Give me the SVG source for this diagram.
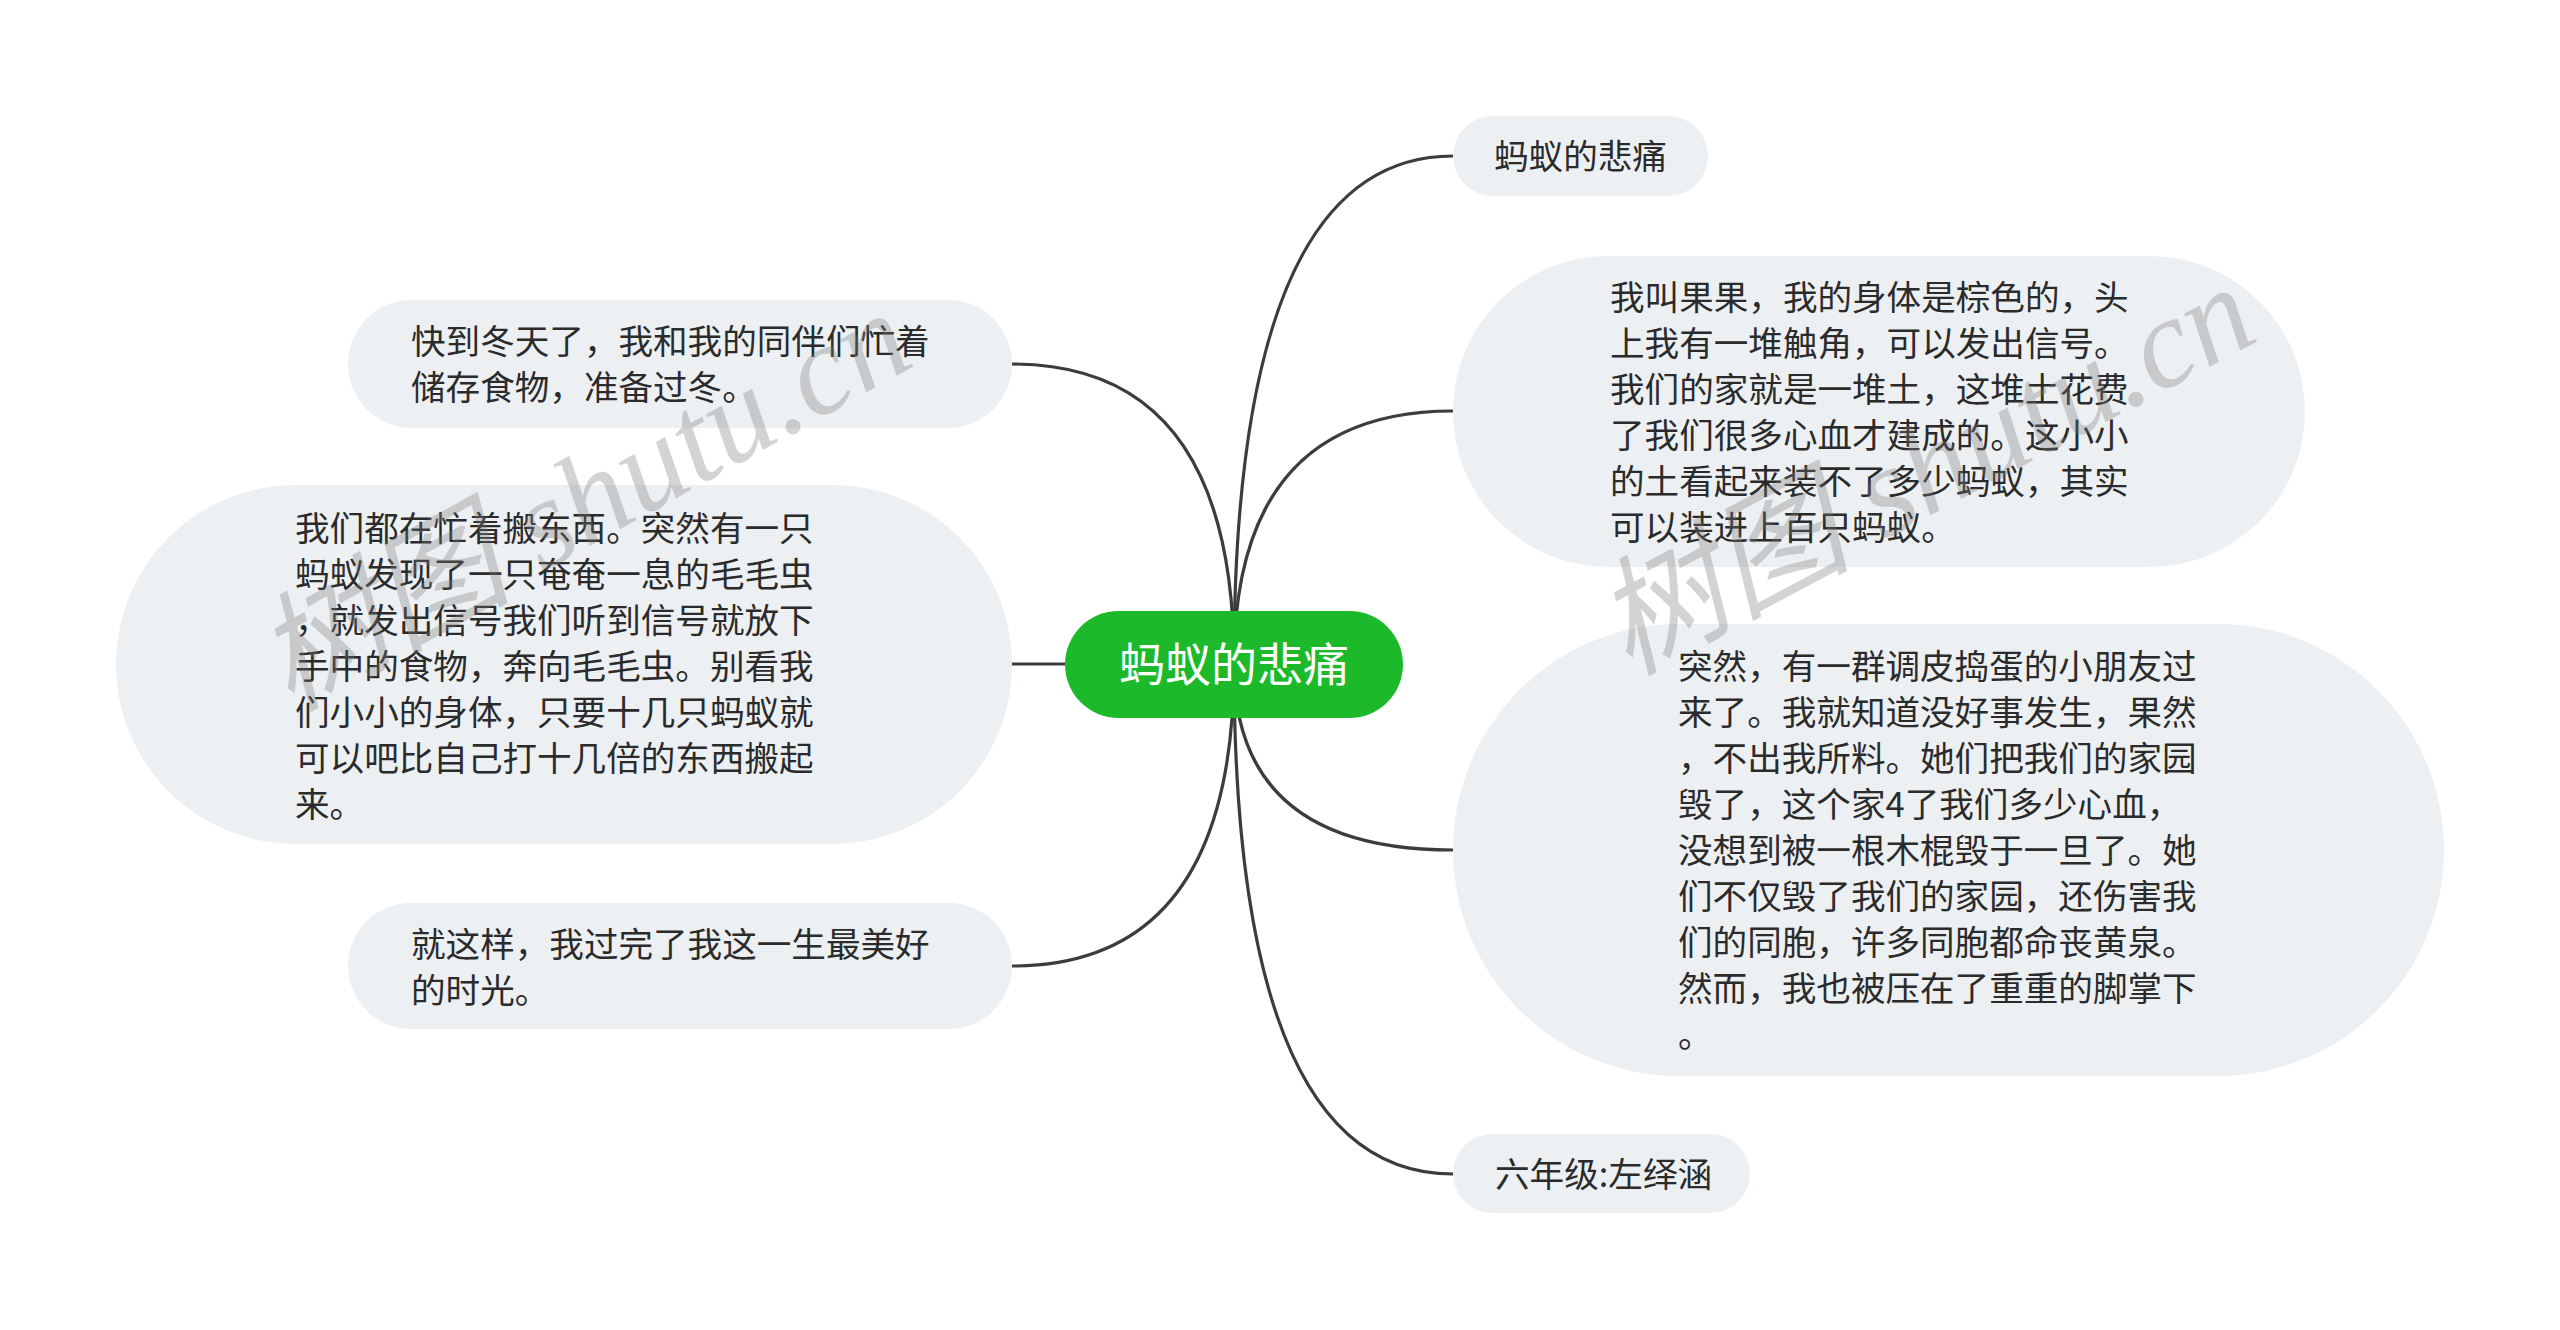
<svg xmlns="http://www.w3.org/2000/svg" width="2560" height="1330" viewBox="0 0 2560 1330">
<style>
.bg{fill:#ffffff}
.node{fill:#edf0f3}
.root{fill:#1cba2a}
.t{font-family:"Noto Sans CJK SC","Noto Sans",sans-serif;font-size:34.6px;fill:#2b2b2b}
.rt{font-family:"Noto Sans CJK SC","Noto Sans",sans-serif;font-size:46px;fill:#ffffff}
.edge{fill:none;stroke:#3c3c3c;stroke-width:3.2}
.wm{font-family:"Liberation Serif","Noto Sans CJK SC",serif;font-size:128px;font-style:italic;fill:#7a7a7a;fill-opacity:0.33}
</style>
<rect class="bg" x="0" y="0" width="2560" height="1330"/>
<g id="connectors">
<path class="edge" d="M1234,664 Q1234,156 1453,156"/>
<path class="edge" d="M1234,664 Q1234,411 1453,411"/>
<path class="edge" d="M1234,664 Q1234,850 1453,850"/>
<path class="edge" d="M1234,664 Q1234,1174 1453,1174"/>
<path class="edge" d="M1234,664 Q1234,364 1012,364"/>
<path class="edge" d="M1234,664 L1012,664"/>
<path class="edge" d="M1234,664 Q1234,966 1012,966"/>
</g>
<g id="node-l1">
<rect class="node" x="348" y="300" width="664" height="128" rx="64"/>
<text class="t" x="411" y="354">快到冬天了，我和我的同伴们忙着</text>
<text class="t" x="411" y="400">储存食物，准备过冬。</text>
</g>
<g id="node-l2">
<rect class="node" x="116" y="485" width="896" height="359" rx="179.5"/>
<text class="t" x="295" y="541">我们都在忙着搬东西。突然有一只</text>
<text class="t" x="295" y="587">蚂蚁发现了一只奄奄一息的毛毛虫</text>
<text class="t" x="295" y="633">，就发出信号我们听到信号就放下</text>
<text class="t" x="295" y="679">手中的食物，奔向毛毛虫。别看我</text>
<text class="t" x="295" y="725">们小小的身体，只要十几只蚂蚁就</text>
<text class="t" x="295" y="771">可以吧比自己打十几倍的东西搬起</text>
<text class="t" x="295" y="817">来。</text>
</g>
<g id="node-l3">
<rect class="node" x="348" y="903" width="664" height="126" rx="63"/>
<text class="t" x="411" y="957">就这样，我过完了我这一生最美好</text>
<text class="t" x="411" y="1003">的时光。</text>
</g>
<g id="node-r1">
<rect class="node" x="1453" y="116" width="255" height="80" rx="40"/>
<text class="t" x="1494" y="169">蚂蚁的悲痛</text>
</g>
<g id="node-r2">
<rect class="node" x="1453" y="256" width="852" height="311" rx="155.5"/>
<text class="t" x="1610" y="310">我叫果果，我的身体是棕色的，头</text>
<text class="t" x="1610" y="356">上我有一堆触角，可以发出信号。</text>
<text class="t" x="1610" y="402">我们的家就是一堆土，这堆土花费</text>
<text class="t" x="1610" y="448">了我们很多心血才建成的。这小小</text>
<text class="t" x="1610" y="494">的土看起来装不了多少蚂蚁，其实</text>
<text class="t" x="1610" y="540">可以装进上百只蚂蚁。</text>
</g>
<g id="node-r3">
<rect class="node" x="1453" y="624" width="991" height="452" rx="226"/>
<text class="t" x="1678" y="679">突然，有一群调皮捣蛋的小朋友过</text>
<text class="t" x="1678" y="725">来了。我就知道没好事发生，果然</text>
<text class="t" x="1678" y="771">，不出我所料。她们把我们的家园</text>
<text class="t" x="1678" y="817">毁了，这个家4了我们多少心血，</text>
<text class="t" x="1678" y="863">没想到被一根木棍毁于一旦了。她</text>
<text class="t" x="1678" y="909">们不仅毁了我们的家园，还伤害我</text>
<text class="t" x="1678" y="955">们的同胞，许多同胞都命丧黄泉。</text>
<text class="t" x="1678" y="1001">然而，我也被压在了重重的脚掌下</text>
<text class="t" x="1678" y="1047">。</text>
</g>
<g id="node-r4">
<rect class="node" x="1453" y="1134" width="297" height="79" rx="39.5"/>
<text class="t" x="1495" y="1187">六年级:左绎涵</text>
</g>
<g id="node-root">
<rect class="root" x="1065" y="611" width="338" height="107" rx="53.5"/>
<text class="rt" x="1234" y="681" text-anchor="middle">蚂蚁的悲痛</text>
</g>
<g id="watermarks">
<text class="wm" x="290" y="712" transform="rotate(-29 290 712)">树图 shutu.cn</text>
<text class="wm" x="1628" y="676" transform="rotate(-28 1628 676)">树图 shutu.cn</text>
</g>
</svg>
